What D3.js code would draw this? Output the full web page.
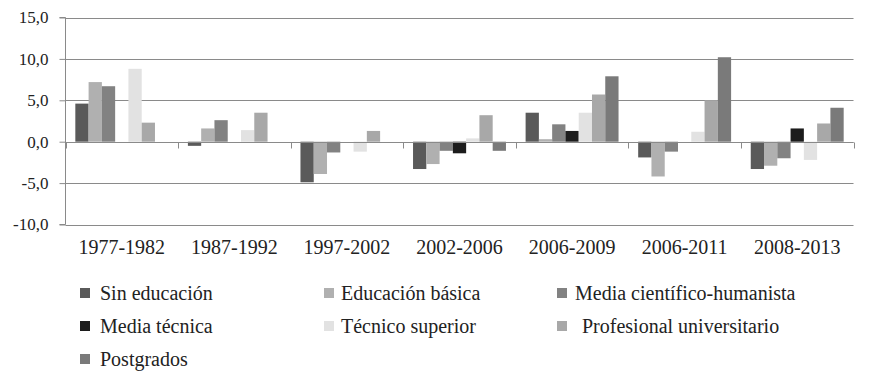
<!DOCTYPE html>
<html><head><meta charset="utf-8">
<script src="https://cdn.jsdelivr.net/npm/d3@7"></script>
<style>body{margin:0;background:#fff}svg{display:block}</style>
</head><body><svg id="c" width="872" height="384"></svg>
<script>
const categories = ["1977-1982","1987-1992","1997-2002","2002-2006","2006-2009","2006-2011","2008-2013"];
const seriesNames = ["Sin educación","Educación básica","Media científico-humanista","Media técnica","Técnico superior","Profesional universitario","Postgrados"];
const sinEducacion   = [4.6, -0.5, -4.9, -3.3, 3.5, -1.9, -3.3];
const educBasica     = [7.2, 1.6, -3.9, -2.7, 0.3, -4.2, -2.9];
const mediaCH        = [6.7, 2.6, -1.3, -1.1, 2.1, -1.2, -2.0];
const mediaTecnica   = [0.0, 0.0, 0.0, -1.4, 1.3, 0.0, 1.6];
const tecnicoSup     = [8.8, 1.4, -1.2, 0.4, 3.5, 1.2, -2.2];
const profesional    = [2.3, 3.5, 1.3, 3.2, 5.7, 5.0, 2.2];
const postgrados     = [0.0, 0.0, 0.0, -1.1, 7.9, 10.2, 4.1];
const yTicks = [-10,-5,0,5,10,15];
const colors = ["#5a5a5a","#b0b0b0","#828282","#1c1c1c","#e2e2e2","#a8a8a8","#7a7a7a"];
const values = [sinEducacion, educBasica, mediaCH, mediaTecnica, tecnicoSup, profesional, postgrados];

const FONT = "'Liberation Serif', Tinos, 'Times New Roman', 'DejaVu Serif', serif";
const svg = d3.select("#c").attr("font-family", FONT);
const L = 65.5, R = 853.5, T = 17.5, B = 224.5;
const x0 = d3.scaleBand().domain(categories).range([L, R]).paddingInner(0).paddingOuter(0);
const x1 = d3.scaleBand().domain(d3.range(7)).range([0, x0.bandwidth()]).paddingOuter(0.74).paddingInner(0);
const y = d3.scaleLinear().domain([-10, 15]).range([B, T]);

// gridlines
svg.append("g").selectAll("line").data(yTicks).join("line")
  .attr("x1", L).attr("x2", R)
  .attr("y1", d => Math.round(y(d)) + 0.5).attr("y2", d => Math.round(y(d)) + 0.5)
  .attr("stroke", "#8a8a8a").attr("stroke-width", 1.2);

// bars
const g = svg.append("g");
categories.forEach((c, ci) => {
  values.forEach((arr, si) => {
    const v = arr[ci];
    if (v === 0) return;
    g.append("rect")
      .attr("x", x0(c) + x1(si))
      .attr("width", x1.bandwidth())
      .attr("y", y(Math.max(0, v)))
      .attr("height", Math.abs(y(v) - y(0)))
      .attr("fill", colors[si]);
  });
});

// y axis
const yAxis = d3.axisLeft(y).tickValues(yTicks).tickSize(6).tickFormat(d => d.toFixed(1).replace(".", ","));
const ya = svg.append("g").attr("transform", `translate(${L},0)`).call(yAxis);
ya.attr("font-family", FONT).attr("font-size", 17);
ya.select(".domain").attr("stroke", "#8a8a8a").attr("d", `M-6,${T}H0V${B}H-6`);
ya.selectAll(".tick line").attr("stroke", "#8a8a8a");
ya.selectAll(".tick text").attr("x", -17).attr("fill", "#222");

// x axis at zero
const zy = Math.round(y(0)) + 0.5;
svg.append("line").attr("x1", L).attr("x2", R).attr("y1", zy).attr("y2", zy).attr("stroke", "#8a8a8a").attr("stroke-width", 1.2);
const bounds = categories.map(c => x0(c)).concat([R]);
svg.append("g").selectAll("line").data(bounds).join("line")
  .attr("x1", d => Math.round(d) + 0.5).attr("x2", d => Math.round(d) + 0.5)
  .attr("y1", zy).attr("y2", zy + 6).attr("stroke", "#8a8a8a");

// category labels
svg.append("g").attr("font-family", FONT).attr("font-size", 20).attr("fill", "#222")
  .selectAll("text").data(categories).join("text")
  .attr("x", d => x0(d) + x0.bandwidth() / 2).attr("y", 254)
  .attr("text-anchor", "middle").text(d => d);

// legend
const colX = [[80, 100], [324, 341], [557, 575]];
const rowY = [293, 326, 359];
const leg = svg.append("g").attr("font-family", FONT).attr("font-size", 20).attr("fill", "#222");
seriesNames.forEach((n, i) => {
  const col = i % 3, row = Math.floor(i / 3);
  const tx = (i === 5) ? colX[col][1] + 7 : colX[col][1];
  leg.append("rect").attr("x", colX[col][0]).attr("y", rowY[row] - 5).attr("width", 10).attr("height", 10).attr("fill", colors[i]);
  leg.append("text").attr("x", tx).attr("y", rowY[row] + 7).text(n);
});
</script></body></html>
